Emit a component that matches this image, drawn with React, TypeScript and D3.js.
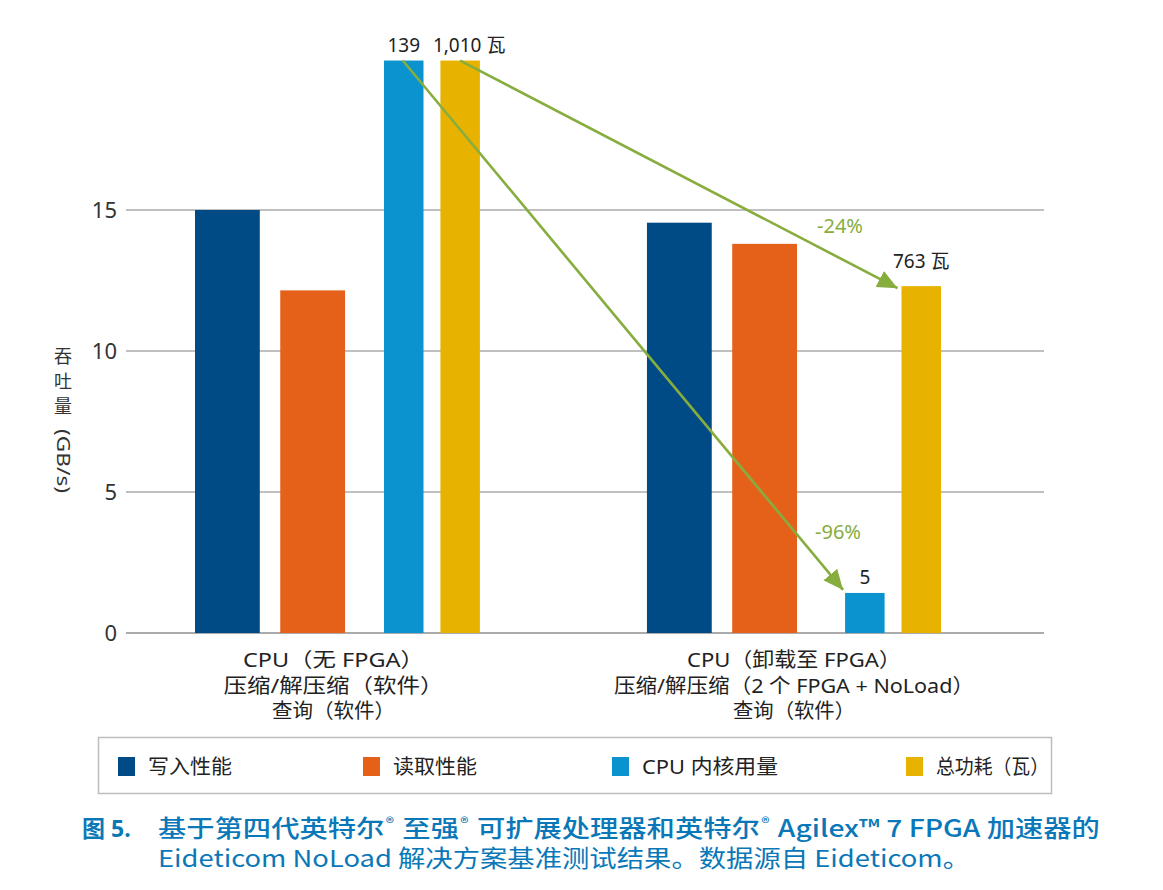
import React, { useLayoutEffect, useRef, useState } from "react";
import * as d3 from "d3";

const categories = ["g1", "g2"];
const categoryLines = [
  ["CPU（无 FPGA）", "压缩/解压缩（软件）", "查询（软件）"],
  ["CPU（卸载至 FPGA）", "压缩/解压缩（2 个 FPGA + NoLoad）", "查询（软件）"],
];
const seriesNames = ["写入性能", "读取性能", "CPU 内核用量", "总功耗（瓦）"];
const seriesColors = ["#004a86", "#e5611a", "#0b93cf", "#e8b300"];
// bar heights in axis units (GB/s scale as drawn)
const writePerf = [15.0, 14.55];
const readPerf = [12.15, 13.8];
const cpuCoresDrawn = [20.3, 1.42];
const powerDrawn = [20.3, 12.3];
const cpuLabels = ["139", "5"];
const powerLabels = ["1,010 瓦", "763 瓦"];
const changeLabels = ["-96%", "-24%"];
const yTicks = [0, 5, 10, 15];
const yTitleChars = ["吞", "吐", "量"];
const yTitleUnit = "(GB/s)";
const captionLead = "图 5.";
const captionLine1 = ["基于第四代英特尔", "®", "至强", "®", "可扩展处理器和英特尔", "®", "Agilex™ 7 FPGA 加速器的"];
const captionLine2 = "Eideticom NoLoad 解决方案基准测试结果。数据源自 Eideticom。";

const FONT = "'Noto Sans', 'Noto Sans CJK SC', sans-serif";
const CJK = "'Noto Sans CJK SC', sans-serif";
const GREEN = "#86ad3e";
const BLUE_TXT = "#0a78b8";

// layout (text widths to match the reference typeface)
const catLineWidths = [[181, 220, 123], [214, 360, 122]];
const legendWidths = [84, 84, 136, 113];

function Caption() {
  const refs = useRef<(SVGTextElement | null)[]>([]);
  const [layout, setLayout] = useState<{ xs: number[]; sx: number } | null>(null);
  useLayoutEffect(() => {
    const xs: number[] = [];
    let cur = 0;
    captionLine1.forEach((s, i) => {
      const el = refs.current[i];
      const w = el ? el.getComputedTextLength() : 0;
      xs.push(cur);
      const isReg = s === "®";
      cur += w + (isReg ? 7 : 1);
    });
    const total = cur - 1;
    setLayout({ xs, sx: 942 / total });
  }, []);
  return (
    <g transform={`translate(158,837) scale(${layout ? layout.sx : 1},1)`}>
      {captionLine1.map((s, i) => (
        <text key={i} ref={(el) => { refs.current[i] = el; }} x={layout ? layout.xs[i] : i * 40}
          y={s === "®" ? -9 : 0} fontSize={s === "®" ? 14 : 23.5} fontWeight={500} fill={BLUE_TXT} fontFamily={CJK}>{s}</text>
      ))}
    </g>
  );
}

export default function App() {
  const W = 1163, H = 890;
  const y = d3.scaleLinear().domain([0, 15]).range([633, 210]);
  // throughput pair and cpu/power pair positioned by their own band scales
  const xA = d3.scaleBand<string>().domain(categories).range([195, 797]).paddingInner(0.668);
  const xB = d3.scaleBand<string>().domain(categories).range([384, 941]).paddingInner(0.792);
  const xInA = d3.scaleBand<number>().domain([0, 1]).range([0, xA.bandwidth()]).paddingInner(0.24);
  const xInB = d3.scaleBand<number>().domain([0, 1]).range([0, xB.bandwidth()]).paddingInner(0.3);
  const seriesVals = [writePerf, readPerf, cpuCoresDrawn, powerDrawn];

  const bars: any[] = [];
  categories.forEach((c, gi) => {
    seriesVals.forEach((vals, si) => {
      const outer = si < 2 ? xA : xB;
      const inner = si < 2 ? xInA : xInB;
      const bx = (outer(c) as number) + (inner(si % 2) as number);
      bars.push({ x: bx, w: inner.bandwidth(), y: y(vals[gi]), h: y(0) - y(vals[gi]), color: seriesColors[si], key: c + si });
    });
  });
  const barAt = (gi: number, si: number) => bars[gi * 4 + si];

  const cpu0 = barAt(0, 2), cpu1 = barAt(1, 2), pw0 = barAt(0, 3), pw1 = barAt(1, 3);
  const arrows = [
    { x1: cpu0.x + cpu0.w / 2 - 1, y1: cpu0.y, x2: cpu1.x - 2, y2: cpu1.y - 3 },
    { x1: pw0.x + pw0.w / 2, y1: pw0.y, x2: pw1.x - 4, y2: pw1.y + 2 },
  ];
  const line = d3.line();

  const legendX = [118, 363, 612, 906];

  return (
    <svg width={W} height={H} style={{ position: "absolute", left: 0, top: 0, background: "#fff" }} fontFamily={FONT}>
      <defs>
        <marker id="ah" markerUnits="userSpaceOnUse" markerWidth="24" markerHeight="20" refX="20" refY="9" orient="auto" viewBox="0 0 24 20">
          <path d="M0,0 L20,9 L0,18 Z" fill={GREEN} />
        </marker>
      </defs>
      {/* gridlines */}
      {yTicks.map((t) => (
        <g key={t}>
          <line x1={126} x2={1044} y1={y(t)} y2={y(t)} stroke="#ababab" strokeWidth={t === 0 ? 2 : 1.6} />
          <text x={117} y={y(t)} dy="0.36em" textAnchor="end" fontSize={22} fill="#333">{t}</text>
        </g>
      ))}
      {/* y title: upright CJK, rotated unit */}
      {yTitleChars.map((ch, i) => (
        <text key={ch} x={63} y={357 + i * 25} dy="0.36em" textAnchor="middle" fontSize={18} fill="#333" fontFamily={CJK}>{ch}</text>
      ))}
      <text transform="translate(63,461) rotate(90)" textAnchor="middle" dy="0.36em" fontSize={18} fill="#333" textLength={64} lengthAdjust="spacingAndGlyphs">{yTitleUnit}</text>
      {/* bars */}
      {bars.map((b) => (
        <rect key={b.key} x={b.x} y={b.y} width={b.w} height={b.h} fill={b.color} />
      ))}
      {/* arrows */}
      {arrows.map((a, i) => (
        <path key={i} d={line([[a.x1, a.y1], [a.x2, a.y2]]) as string} stroke={GREEN} strokeWidth={2.6} fill="none" markerEnd="url(#ah)" />
      ))}
      {/* value labels */}
      <text x={cpu0.x + cpu0.w / 2} y={cpu0.y - 9} textAnchor="middle" fontSize={19} fill="#222">{cpuLabels[0]}</text>
      <text x={pw0.x + pw0.w / 2 + 9} y={pw0.y - 9} textAnchor="middle" fontSize={19} fill="#222">{powerLabels[0]}</text>
      <text x={cpu1.x + cpu1.w / 2} y={cpu1.y - 9} textAnchor="middle" fontSize={19} fill="#222">{cpuLabels[1]}</text>
      <text x={pw1.x + pw1.w / 2} y={pw1.y - 18} textAnchor="middle" fontSize={19} fill="#222">{powerLabels[1]}</text>
      <text x={838} y={539} textAnchor="middle" fontSize={20} fill={GREEN}>{changeLabels[0]}</text>
      <text x={840} y={233} textAnchor="middle" fontSize={20} fill={GREEN}>{changeLabels[1]}</text>
      {/* category labels */}
      {categories.map((c, gi) => {
        const first = barAt(gi, 0), last = barAt(gi, 3);
        const cx = (first.x + last.x + last.w) / 2 - (gi === 0 ? 4 : 0);
        return (
          <g key={c}>
            {categoryLines[gi].map((l, li) => (
              <text key={li} x={cx} y={667 + li * 25.5} textAnchor="middle" fontSize={20} fill="#222"
                textLength={catLineWidths[gi][li]} lengthAdjust="spacingAndGlyphs">{l}</text>
            ))}
          </g>
        );
      })}
      {/* legend */}
      <rect x={98.5} y={737.5} width={953} height={56} fill="none" stroke="#bdbdbd" strokeWidth={1.5} />
      {seriesNames.map((n, i) => (
        <g key={n}>
          <rect x={legendX[i]} y={757} width={17} height={19} fill={seriesColors[i]} />
          <text x={legendX[i] + 30} y={767} dy="0.36em" fontSize={20} fill="#222" textLength={legendWidths[i]} lengthAdjust="spacingAndGlyphs">{n}</text>
        </g>
      ))}
      {/* caption */}
      <text x={82} y={837} fontSize={23} fontWeight={700} fill={BLUE_TXT} fontFamily={FONT}>{captionLead}</text>
      <Caption />
      <text x={158} y={867} fontSize={23.5} fontWeight={400} fill={BLUE_TXT} fontFamily={CJK} textLength={812} lengthAdjust="spacingAndGlyphs">{captionLine2}</text>
    </svg>
  );
}
